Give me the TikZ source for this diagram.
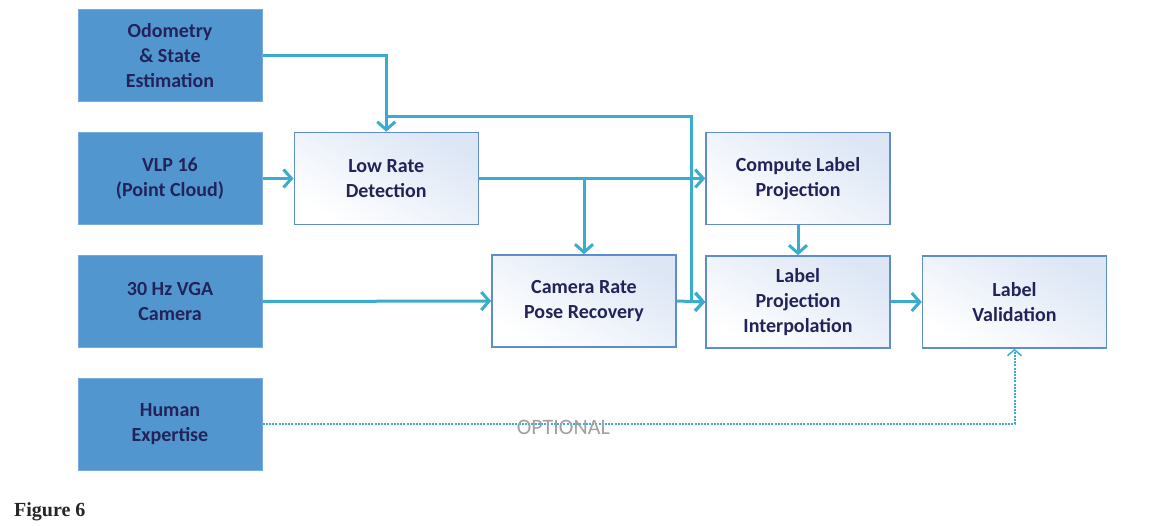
\documentclass[tikz,border=0pt]{standalone}
\usepackage{fontspec}
\setmainfont{Carlito}
\newfontfamily\capfont{Liberation Serif}
\usetikzlibrary{positioning,arrows.meta}

\definecolor{srcblue}{RGB}{82,150,208}
\definecolor{srcedge}{RGB}{120,170,220}
\definecolor{procedge}{RGB}{95,140,205}
\definecolor{procfill}{RGB}{220,230,245}
\definecolor{navytext}{RGB}{35,35,90}
\definecolor{flowline}{RGB}{60,172,204}
\definecolor{optgray}{RGB}{160,160,160}

\begin{document}
\begin{tikzpicture}[x=1pt,y=-1pt,
    srcnode/.style={rectangle, draw=srcedge, fill=srcblue, line width=1pt, minimum width=184pt, minimum height=92pt, align=center, text=navytext, font=\bfseries\fontsize{20}{25}\selectfont},
    procnode/.style={rectangle, draw=procedge, top color=procfill, bottom color=white, shading angle=-30, line width=1.5pt, minimum width=184pt, minimum height=92pt, align=center, text=navytext, font=\bfseries\fontsize{20}{25}\selectfont},
    flow/.style={draw=flowline, line width=3pt, -{Straight Barb[length=8pt,width=18pt,line width=3pt]}},
    optflow/.style={draw=flowline, line width=2pt, dash pattern=on 2pt off 1.2pt, -{Straight Barb[length=6pt,width=14pt,line width=1.5pt]}},]
    \useasboundingbox (0,0) rectangle (1164,526);
    % nodes
    \node[srcnode]   (odo)    at (170,55.5)            {Odometry\\\& State\\Estimation};
    \node[srcnode]   (vlp)    at (170,178.5)           {VLP 16\\(Point Cloud)};
    \node[srcnode]   (cam)    at (170,301.5)           {30 Hz VGA\\Camera};
    \node[srcnode]   (hum)    at (170,424)             {Human\\Expertise};
    \node[procnode]  (low)    [right=31pt of vlp]      {Low Rate\\Detection};
    \node[procnode]  (crp)    at (584,301)             {Camera Rate\\Pose Recovery};
    \node[procnode]  (clp)    at (798,178.5)           {Compute Label\\Projection};
    \node[procnode]  (lpi)    [below=30pt of clp]      {Label\\Projection\\Interpolation};
    \node[procnode]  (val)    [right=31pt of lpi]      {Label\\Validation};
    \coordinate      (bus)    at (691,117);
    \node[anchor=north west, inner sep=0pt, font=\capfont\bfseries\fontsize{20}{24}\selectfont, text=black!85] (fig) at (14,502) {Figure 6};
    % lines
    \draw[flow] (odo.east) -| (low.north);
    \draw[flow] (low.north |- bus) -- (bus) |- (lpi.west);
    \draw[flow] (vlp.east) -- (low.west);
    \draw[flow] (low.east) -- (low.east -| clp.west);
    \draw[flow] (low.east -| crp.north) -- (crp.north);
    \draw[flow] (cam.east) -- (crp.west);
    \draw[flow] (crp.east) -- (lpi.west);
    \draw[flow] (clp.south) -- (lpi.north);
    \draw[flow] (lpi.east) -- (val.west);
    \draw[optflow] (hum.east) -| (val.south) node[pos=0.2, yshift=-3pt, text=optgray, font=\fontsize{22}{26}\selectfont] {OPTIONAL};
\end{tikzpicture}
\end{document}
